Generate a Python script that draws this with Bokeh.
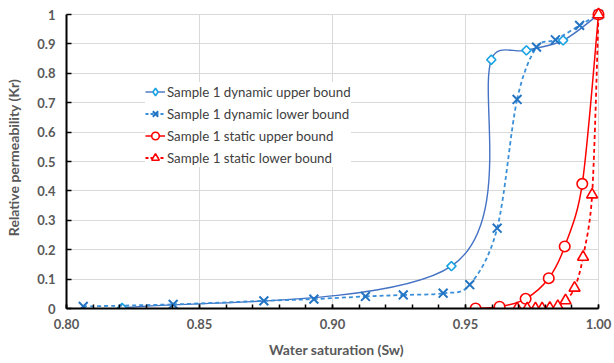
import numpy as np
from bokeh.plotting import figure
from bokeh.models import (ColumnDataSource, FixedTicker, NumeralTickFormatter,
                          CustomJSTickFormatter, Legend, LegendItem, Range1d)
from bokeh.embed import file_html
from bokeh.resources import INLINE

# ---------------- data ----------------
dyn_up_sw = [0.8209, 0.9447, 0.9597, 0.9729, 0.9867, 1.0]
dyn_up_kr = [0.002, 0.144, 0.846, 0.878, 0.912, 1.0]

dyn_lo_sw = [0.8063, 0.8401, 0.8742, 0.8930, 0.9124, 0.9266, 0.9416,
             0.9516, 0.9619, 0.9694, 0.9767, 0.9838, 0.9929, 1.0]
dyn_lo_kr = [0.007, 0.014, 0.026, 0.032, 0.041, 0.046, 0.052,
             0.081, 0.273, 0.711, 0.889, 0.914, 0.963, 1.0]

sta_up_sw = [0.9538, 0.9628, 0.9726, 0.9813, 0.9873, 0.9939, 1.0]
sta_up_kr = [0.0, 0.006, 0.033, 0.103, 0.211, 0.424, 1.0]

sta_lo_sw = [0.9694, 0.9732, 0.9763, 0.9788, 0.9817, 0.9847, 0.9876,
             0.9910, 0.9942, 0.9976, 1.0]
sta_lo_kr = [0.0, 0.0, 0.0, 0.0, 0.002, 0.008, 0.027,
             0.070, 0.175, 0.387, 1.0]

series_names = ["Sample 1 dynamic upper bound", "Sample 1 dynamic lower bound",
                "Sample 1 static upper bound", "Sample 1 static lower bound"]

x_title = "Water saturation (Sw)"
y_title = "Relative permeability (Kr)"

x_ticks = [0.80, 0.85, 0.90, 0.95, 1.00]
x_minor = [0.80, 0.81, 0.82, 0.83, 0.84, 0.85, 0.86, 0.87, 0.88, 0.89, 0.90,
           0.91, 0.92, 0.93, 0.94, 0.95, 0.96, 0.97, 0.98, 0.99, 1.00]
y_ticks = [0.0, 0.1, 0.2, 0.3, 0.4, 0.5, 0.6, 0.7, 0.8, 0.9, 1.0]

# ---------------- layout ----------------
W, H = 614, 363
AX_L, AX_R, AX_T, AX_B = 66, 598, 14, 308      # pixel box of the axes (0.80..1.00, 0..1)
PAD = 8                                          # room at top/right so corner markers show
X0, X1, Y0, Y1 = 0.80, 1.00, 0.0, 1.0
SX = (AX_R - AX_L) / (X1 - X0)
SY = (AX_B - AX_T) / (Y1 - Y0)

FONT = "Lato"
GRAY = "#595959"

p = figure(width=W, height=H, output_backend="svg", toolbar_location=None,
           x_range=Range1d(X0, X1 + PAD / SX),
           y_range=Range1d(Y0, Y1 + PAD / SY),
           min_border_left=AX_L, min_border_right=W - AX_R - PAD,
           min_border_top=AX_T - PAD, min_border_bottom=H - AX_B)
p.outline_line_color = None
p.background_fill_color = "white"

# axes
for ax in (p.xaxis[0], p.yaxis[0]):
    ax.axis_line_color = "black"
    ax.axis_line_width = 2
    ax.major_tick_line_color = "black"
    ax.major_tick_line_width = 1.5
    ax.major_label_text_font = FONT
    ax.major_label_text_font_style = "bold"
    ax.major_label_text_font_size = "13px"
    ax.major_label_text_color = GRAY
    ax.major_tick_out = 0
    ax.axis_label_text_font = FONT
    ax.axis_label_text_font_style = "bold"
    ax.axis_label_text_font_size = "14px"
    ax.axis_label_text_color = GRAY

p.xaxis.axis_label = x_title
p.yaxis.axis_label = y_title

p.xaxis.bounds = (X0, X1)
p.xaxis.ticker = FixedTicker(ticks=x_ticks, minor_ticks=x_minor)
p.xaxis.formatter = NumeralTickFormatter(format="0.00")
p.xaxis.major_tick_in = 4
p.xaxis.minor_tick_in = 4
p.xaxis.minor_tick_out = 0
p.xaxis.minor_tick_line_color = "black"
p.xaxis.minor_tick_line_width = 1.5
p.xaxis.major_label_standoff = 10
p.xaxis.axis_label_standoff = 9

p.yaxis.bounds = (Y0, Y1)
p.yaxis.ticker = FixedTicker(ticks=y_ticks, minor_ticks=[])
p.yaxis.formatter = CustomJSTickFormatter(code="return String(Number(tick.toFixed(2)));")
p.yaxis.major_tick_in = 5
p.yaxis.minor_tick_line_color = None
p.yaxis.major_label_standoff = 11
p.yaxis.axis_label_standoff = 12

p.xgrid.ticker = FixedTicker(ticks=x_ticks)
p.ygrid.ticker = FixedTicker(ticks=y_ticks)
for g in (p.xgrid[0], p.ygrid[0]):
    g.grid_line_color = "#D9D9D9"
    g.grid_line_width = 1
try:
    p.xgrid[0].cross_bounds = (Y0, Y1)
    p.ygrid[0].cross_bounds = (X0, X1)
except Exception:
    pass

# ---------------- Excel-like smoothing (Bezier control points) ----------------
def excel_smooth(xs, ys):
    pxs = np.asarray(xs, float) * SX
    pys = np.asarray(ys, float) * SY
    n = len(pxs)
    d = dict(x0=[], y0=[], x1=[], y1=[], cx0=[], cy0=[], cx1=[], cy1=[])
    for i in range(n - 1):
        i0, i3 = max(i - 1, 0), min(i + 2, n - 1)
        P0 = np.array([pxs[i0], pys[i0]])
        P1 = np.array([pxs[i], pys[i]])
        P2 = np.array([pxs[i + 1], pys[i + 1]])
        P3 = np.array([pxs[i3], pys[i3]])
        d12 = np.hypot(*(P2 - P1))
        d02 = np.hypot(*(P2 - P0))
        d13 = np.hypot(*(P3 - P1))
        t1 = min(1 / 6, 0.5 * d12 / d02) if d02 > 0 else 0.0
        t2 = min(1 / 6, 0.5 * d12 / d13) if d13 > 0 else 0.0
        C1 = P1 + t1 * (P2 - P0)
        C2 = P2 - t2 * (P3 - P1)
        d["x0"].append(P1[0] / SX); d["y0"].append(P1[1] / SY)
        d["x1"].append(P2[0] / SX); d["y1"].append(P2[1] / SY)
        d["cx0"].append(C1[0] / SX); d["cy0"].append(C1[1] / SY)
        d["cx1"].append(C2[0] / SX); d["cy1"].append(C2[1] / SY)
    return ColumnDataSource(d)

RED = "#FF0000"
C_DU_LINE = "#4472C4"
C_DU_MARK = "#1AA3E3"
C_DL_LINE = "#3A8FD9"
C_DL_MARK = "#2474C4"

styles = [
    dict(xs=dyn_up_sw, ys=dyn_up_kr, lc=C_DU_LINE, lw=1.4, dash="solid",
         marker="square", angle=np.pi / 4, mc=C_DU_MARK, size=6.5, mlw=1.6,
         lmarker="diamond", lsize=9),
    dict(xs=dyn_lo_sw, ys=dyn_lo_kr, lc=C_DL_LINE, lw=1.8, dash="4 3",
         marker="x", angle=0.0, mc=C_DL_MARK, size=12.5, mlw=2,
         lmarker="x", lsize=8),
    dict(xs=sta_up_sw, ys=sta_up_kr, lc=RED, lw=1.5, dash="solid",
         marker="circle", angle=0.0, mc=RED, size=10.5, mlw=1.6,
         lmarker="circle", lsize=7),
    dict(xs=sta_lo_sw, ys=sta_lo_kr, lc=RED, lw=1.8, dash="4 3",
         marker="triangle", angle=0.0, mc=RED, size=11, mlw=1.6,
         lmarker="triangle", lsize=7.5),
]

items = []
for name, st in zip(series_names, styles):
    src = excel_smooth(st["xs"], st["ys"])
    p.bezier(x0="x0", y0="y0", x1="x1", y1="y1", cx0="cx0", cy0="cy0",
             cx1="cx1", cy1="cy1", source=src, line_color=st["lc"],
             line_width=st["lw"], line_dash=st["dash"])
    fill = "white" if st["marker"] != "x" else None
    p.scatter(x=st["xs"], y=st["ys"], marker=st["marker"], size=st["size"],
              angle=st["angle"], line_color=st["mc"], line_width=st["mlw"],
              fill_color=fill)
    # legend proxies (a single NaN point: nothing drawn in the plot)
    lr = p.line(x=[np.nan], y=[np.nan], line_color=st["lc"], line_width=st["lw"],
                line_dash="3 2" if st["dash"] != "solid" else "solid")
    sr = p.scatter(x=[np.nan], y=[np.nan], marker=st["lmarker"], size=st["lsize"],
                   line_color=st["mc"], line_width=st["mlw"], fill_color=fill)
    items.append(LegendItem(label=name, renderers=[lr, sr]))

legend = Legend(items=items, location=(79, 141), orientation="vertical",
                background_fill_color="white", background_fill_alpha=1.0,
                border_line_color=None, padding=6, spacing=3, margin=0,
                glyph_width=20, glyph_height=19, label_height=19,
                label_standoff=2, label_text_font=FONT,
                label_text_font_size="13.3px", label_text_color="#404040")
p.add_layout(legend, "center")

open("out.html", "w").write(file_html(p, INLINE))
